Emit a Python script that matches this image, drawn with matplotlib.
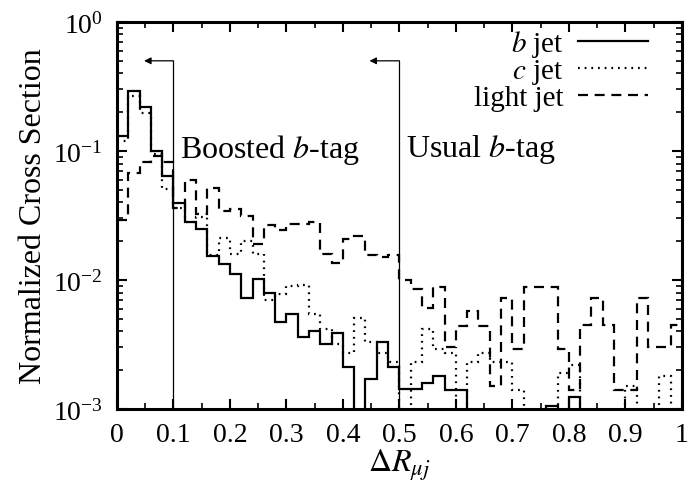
import numpy as np
import matplotlib
matplotlib.use("Agg")
import matplotlib.pyplot as plt

plt.rcParams['font.family'] = ['Liberation Serif', 'DejaVu Serif']
plt.rcParams['mathtext.fontset'] = 'stix'
plt.rcParams['font.size'] = 22

# bin edges: 50 bins of width 0.02 from 0 to 1
edges = np.linspace(0, 1, 51)

b_jet = [0.130, 0.293, 0.218, 0.1005, 0.064, 0.0393, 0.028, 0.0249, 0.0154, 0.0133,
         0.0111, 0.0073, 0.0102, 0.0079, 0.0047, 0.00545, 0.0036, 0.00405, 0.0032, 0.0039,
         0.0021, 0, 0.0017, 0.0033, 0.0021, 0.00143, 0.00143, 0.0016, 0.0018, 0.0014,
         0.0014, 0, 0, 0, 0, 0, 0, 0, 0.00105, 0,
         0.00124, 0, 0, 0, 0, 0, 0, 0, 0, 0]

c_jet = [0.12, 0.268, 0.197, 0.095, 0.051, 0.036, 0.028, 0.031, 0.0155, 0.021,
         0.016, 0.020, 0.016, 0.007, 0.0078, 0.009, 0.0092, 0.0055, 0.0042, 0.0032,
         0.0027, 0.0051, 0.0033, 0.0027, 0.0023, 0, 0.0023, 0.0042, 0.0029, 0.0027,
         0, 0.0023, 0.0027, 0.0023, 0.0023, 0.0014, 0, 0, 0, 0.0019,
         0.0022, 0, 0, 0, 0, 0.0015, 0, 0, 0.0018, 0]

light_jet = [0.029, 0.068, 0.082, 0.092, 0.082, 0.036, 0.060, 0.0325, 0.052, 0.0344,
             0.0355, 0.0312, 0.019, 0.0265, 0.0245, 0.027, 0.027, 0.028, 0.016, 0.0135,
             0.0208, 0.022, 0.0156, 0.015, 0.0156, 0.0100, 0.0085, 0.0061, 0.0089, 0.0030,
             0.0044, 0.0058, 0.0044, 0.0015, 0.0073, 0.0029, 0.0089, 0.0089, 0.0089, 0.0029,
             0.0014, 0.0045, 0.0073, 0.0045, 0.0014, 0.0014, 0.0073, 0.0030, 0.0030, 0.0045]


def floor(v):
    # empty bins drop below the axis
    v = np.array(v, dtype=float)
    return np.where(v > 0, v, 1e-6)


fig = plt.figure(figsize=(6.88, 4.85), dpi=100)
ax = fig.add_axes([0.170, 0.1546, 0.821, 0.798])

ax.stairs(floor(b_jet), edges, baseline=None, color='black', lw=1.6, label='$b$ jet')
ax.stairs(floor(c_jet), edges, baseline=None, color='black', lw=1.6,
          linestyle=(0, (0.8, 2.2)), label='$c$ jet')
ax.stairs(floor(light_jet), edges, baseline=None, color='black', lw=1.6,
          linestyle=(0, (4.5, 3)), label='light jet')

ax.set_yscale('log')
ax.set_xlim(0, 1)
ax.set_ylim(1e-3, 1)
ax.set_xticks(np.arange(0, 1.01, 0.1))
ax.set_xticklabels(['0', '0.1', '0.2', '0.3', '0.4', '0.5', '0.6', '0.7', '0.8', '0.9', '1'])
ax.set_xticks(np.arange(0.05, 1, 0.1), minor=True)
ax.tick_params(which='both', direction='in', top=True, right=True, labelsize=20)
ax.tick_params(which='major', length=7, width=1.5)
ax.tick_params(axis='x', which='major', pad=9)
ax.tick_params(axis='y', which='major', pad=10)
ax.tick_params(which='minor', length=4, width=1.2)
for s in ax.spines.values():
    s.set_linewidth(2.2)

ax.set_xlabel(r'$\Delta R_{\mu j}$', fontsize=23, labelpad=0)
ax.set_ylabel('Normalized Cross Section', fontsize=23, labelpad=4)

# cut markers
for xc, xa in [(0.1, 0.048), (0.5, 0.447)]:
    ax.plot([xc, xc], [1e-3, 0.5], color='black', lw=0.9)
    ax.annotate('', xy=(xa, 0.5), xytext=(xc, 0.5),
                arrowprops=dict(arrowstyle='-|>', color='black', lw=0.9,
                                mutation_scale=10, shrinkA=0, shrinkB=0))

ax.text(0.112, 0.104, 'Boosted $b$-tag', fontsize=23, ha='left', va='center')
ax.text(0.512, 0.104, 'Usual $b$-tag', fontsize=23, ha='left', va='center')

ax.legend(loc='upper right', bbox_to_anchor=(0.94, 0.985), frameon=False,
          markerfirst=False, handlelength=2.4, handletextpad=0.5,
          labelspacing=-0.05, borderpad=0, borderaxespad=0, fontsize=21)

fig.savefig('out.png', dpi=100)
